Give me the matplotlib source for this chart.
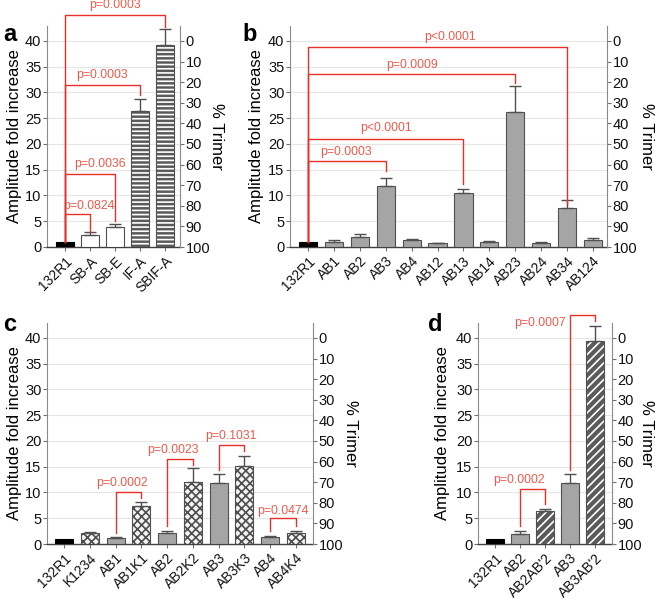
import numpy as np
import matplotlib
matplotlib.use('Agg')
import matplotlib.pyplot as plt

plt.rcParams['font.family'] = ['Liberation Sans', 'DejaVu Sans']
plt.rcParams['hatch.linewidth'] = 1.2

# ---- data ----
a_names = ['132R1', 'SB-A', 'SB-E', 'IF-A', 'SBIF-A']
a_vals = [1.0, 2.4, 3.9, 26.4, 39.2]
a_err = [0.0, 0.6, 0.6, 2.3, 3.1]
a_style = ['black', 'white', 'white', 'hstripe', 'hstripe']

b_names = ['132R1', 'AB1', 'AB2', 'AB3', 'AB4', 'AB12', 'AB13', 'AB14',
           'AB23', 'AB24', 'AB34', 'AB124']
b_vals = [1.0, 1.0, 2.0, 11.8, 1.4, 0.7, 10.4, 1.0, 26.2, 0.8, 7.6, 1.35]
b_err = [0.0, 0.35, 0.5, 1.6, 0.2, 0.15, 0.8, 0.2, 5.1, 0.1, 1.5, 0.45]
b_style = ['black'] + ['grey'] * 11

c_names = ['132R1', 'K1234', 'AB1', 'AB1K1', 'AB2', 'AB2K2', 'AB3', 'AB3K3',
           'AB4', 'AB4K4']
c_vals = [1.0, 2.07, 1.1, 7.3, 2.1, 12.1, 11.9, 15.1, 1.4, 2.07]
c_err = [0.0, 0.33, 0.2, 0.9, 0.5, 2.6, 1.6, 2.0, 0.15, 0.43]
c_style = ['black', 'check', 'grey', 'check', 'grey', 'check', 'grey', 'check',
           'grey', 'check']

d_names = ['132R1', 'AB2', "AB2AB'2", 'AB3', "AB3AB'2"]
d_vals = [1.0, 2.0, 6.4, 11.9, 39.5]
d_err = [0.0, 0.6, 0.3, 1.7, 2.9]
d_style = ['black', 'grey', 'diag', 'grey', 'diag']

# brackets: (i, j, bar height, left end, right end, label, text x, text y)
a_brackets = [
    (0, 1, 6.4, 1.0, 3.0, 'p=0.0824', 0.96, 8.0),
    (0, 2, 14.2, 1.0, 5.0, 'p=0.0036', 1.39, 16.1),
    (0, 3, 31.5, 1.0, 29.5, 'p=0.0003', 1.48, 33.4),
    (0, 4, 45.1, 1.0, 42.8, 'p=0.0003', 1.99, 47.0),
]
b_brackets = [
    (0, 3, 16.7, 1.0, 14.8, 'p=0.0003', 1.47, 18.4),
    (0, 6, 21.0, 1.0, 12.3, 'p<0.0001', 3.0, 23.1),
    (0, 8, 33.6, 1.0, 31.9, 'p=0.0009', 4.0, 35.3),
    (0, 10, 38.8, 1.0, 8.4, 'p<0.0001', 5.48, 40.7),
]
c_brackets = [
    (2, 3, 10.1, 2.2, 9.0, 'p=0.0002', 2.26, 11.8),
    (4, 5, 16.5, 3.4, 15.4, 'p=0.0023', 4.21, 18.2),
    (6, 7, 19.3, 14.3, 18.0, 'p=0.1031', 6.46, 20.9),
    (8, 9, 5.1, 2.5, 3.5, 'p=0.0474', 8.5, 6.5),
]
d_brackets = [
    (1, 2, 10.6, 3.5, 7.7, 'p=0.0002', 0.96, 12.4),
    (3, 4, 44.5, 14.4, 43.3, 'p=0.0007', 2.85, 42.9),
]

W, H = 655, 599
YTOP = 42.9
RED = '#e8302a'
RED_TXT = '#f05a4c'
EDGE = '#505050'


def frac(x, y):
    return x / W, 1 - y / H


def make_axes(fig, l, t, r, b):
    x0, y1 = frac(l, t)
    x1, y0 = frac(r, b)
    return fig.add_axes([x0, y0, x1 - x0, y1 - y0])


def draw_bars(ax, vals, errs, styles, width=0.7):
    x = np.arange(len(vals))
    for xi, v, s in zip(x, vals, styles):
        if s == 'black':
            ax.bar(xi, v, width, color='black', edgecolor='black', lw=0.8, zorder=3)
            continue
        if s == 'white':
            ax.bar(xi, v, width, color='white', edgecolor=EDGE, lw=0.8, zorder=3)
            continue
        if s == 'grey':
            ax.bar(xi, v, width, color='#a5a5a5', edgecolor=EDGE, lw=0.8, zorder=3)
            continue
        if s == 'hstripe':
            ax.bar(xi, v, width, color='#5a5a5a', edgecolor='white', lw=0,
                   hatch='----', zorder=3)
        elif s == 'check':
            ax.bar(xi, v, width, color='#f4f4f4', edgecolor='#4e4e4e', lw=0,
                   hatch='xxxx', zorder=3)
        elif s == 'diag':
            ax.bar(xi, v, width, color='#5a5a5a', edgecolor='white', lw=0,
                   hatch='////', zorder=3)
        ax.bar(xi, v, width, fill=False, edgecolor=EDGE, lw=0.8, zorder=4)
    lower = np.zeros(len(vals))
    errs = np.array(errs)
    m = errs > 0
    ax.errorbar(x[m], np.array(vals)[m], yerr=[lower[m], errs[m]], fmt='none',
                ecolor=EDGE, elinewidth=1, capsize=4, capthick=1, zorder=5)


def draw_brackets(ax, brackets):
    for i, j, yb, yl, yr, lab, tx, ty in brackets:
        ax.plot([i, i, j, j], [yl, yb, yb, yr], color=RED, lw=1,
                clip_on=False, zorder=6)
        ha = 'right' if ty < yb and i != 0 else 'center'
        ax.text(tx, ty, lab, color=RED_TXT, fontsize=8.8, ha=ha, va='center',
                clip_on=False, zorder=6)


def style_axes(ax, names, xlim):
    ax.set_xlim(*xlim)
    ax.set_ylim(0, YTOP)
    ax.set_yticks(np.arange(0, 41, 5))
    ax.set_xticks(np.arange(len(names)))
    ax.set_xticklabels(names, rotation=45, ha='right', rotation_mode='anchor')
    ax.tick_params(axis='both', labelsize=10.5, length=3, width=0.8,
                   colors='#707070', labelcolor='#111111')
    ax.tick_params(axis='x', pad=2, labelsize=10)
    ax.tick_params(axis='y', pad=1)
    for yv in np.arange(5, 41, 5):
        ax.axhline(yv, color='#e6e6e6', lw=0.8, zorder=0)
    ax.spines['top'].set_visible(False)
    ax.spines['right'].set_visible(False)
    ax.spines['left'].set_color('#8a8a8a')
    ax.spines['bottom'].set_color('#404040')
    ax.spines['bottom'].set_linewidth(1.0)

    tw = ax.twinx()
    tw.set_ylim(100, 100 - 2.5 * YTOP)
    tw.set_yticks(np.arange(0, 101, 10))
    tw.tick_params(axis='y', labelsize=10.5, length=3, width=0.8, pad=1,
                   colors='#707070', labelcolor='#111111')
    for sp in ['top', 'left', 'bottom']:
        tw.spines[sp].set_visible(False)
    tw.spines['right'].set_color('#8a8a8a')
    return tw


fig = plt.figure(figsize=(6.55, 5.99), dpi=100)

panels = [
    ('a', (47, 26, 180, 247), a_names, a_vals, a_err, a_style, a_brackets,
     (-0.72, 4.6), (3, 41), 15, 217),
    ('b', (290, 26, 607, 247), b_names, b_vals, b_err, b_style, b_brackets,
     (-0.695, 11.54), (242, 41), 257, 647),
    ('c', (47, 323, 313, 544), c_names, c_vals, c_err, c_style, c_brackets,
     (-0.66, 9.66), (3, 331), 15, 350),
    ('d', (478, 323, 612, 544), d_names, d_vals, d_err, d_style, d_brackets,
     (-0.68, 4.68), (428, 331), 442, 647),
]

for letter, rect, names, vals, errs, styles, brackets, xlim, lpos, ylx, ryx in panels:
    ax = make_axes(fig, *rect)
    style_axes(ax, names, xlim)
    draw_bars(ax, vals, errs, styles)
    draw_brackets(ax, brackets)
    cy = (rect[1] + rect[3]) / 2
    fig.text(*frac(*lpos), letter, fontsize=17, fontweight='bold',
             ha='left', va='baseline')
    fig.text(*frac(ylx, cy), 'Amplitude fold increase', fontsize=12,
             rotation=90, ha='center', va='center')
    fig.text(*frac(ryx, cy), '% Trimer', fontsize=12, rotation=-90,
             ha='center', va='center')

fig.savefig('out.png', dpi=100)
